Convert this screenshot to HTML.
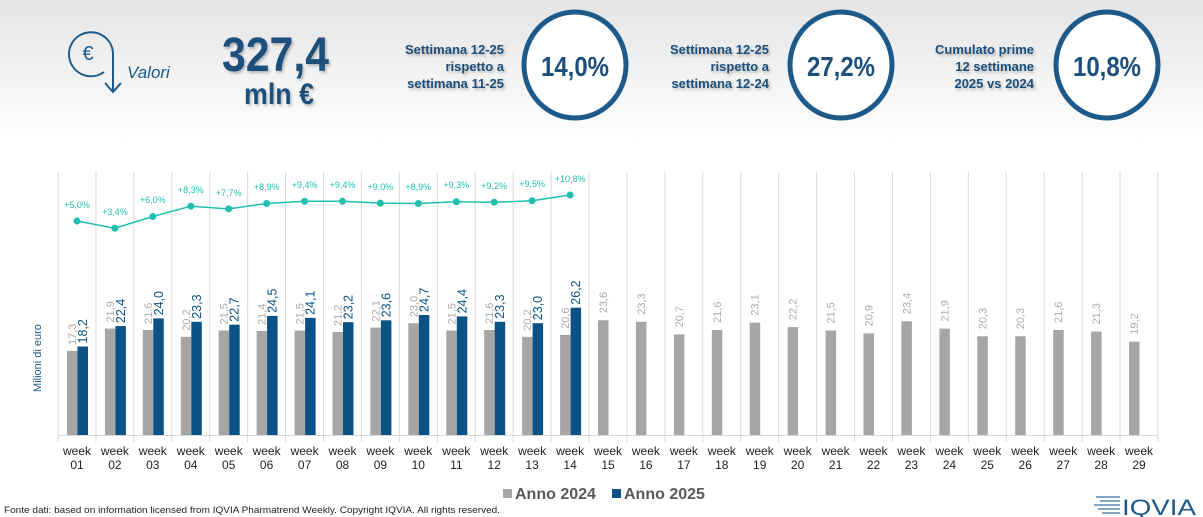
<!DOCTYPE html>
<html><head><meta charset="utf-8"><style>
html,body{margin:0;padding:0;width:1203px;height:517px;overflow:hidden;background:#fff;font-family:"Liberation Sans",sans-serif;}
</style></head><body>
<svg width="1203" height="517" viewBox="0 0 1203 517" xmlns="http://www.w3.org/2000/svg" font-family="Liberation Sans, sans-serif">
<defs>
<linearGradient id="bg" x1="0" y1="0" x2="0" y2="1">
<stop offset="0" stop-color="#e4e4e4"/><stop offset="1" stop-color="#ffffff"/>
</linearGradient>
<filter id="sh" x="-10%" y="-10%" width="130%" height="140%"><feDropShadow dx="1.5" dy="2" stdDeviation="1.2" flood-color="#000" flood-opacity="0.25"/></filter>
<pattern id="grid" x="57.5" y="0" width="37.93" height="517" patternUnits="userSpaceOnUse"><rect x="0" y="0" width="1" height="517" fill="#d9d9d9"/></pattern>
</defs>
<rect x="0" y="0" width="1203" height="140" fill="url(#bg)"/>
<g fill="none" stroke="#1d5a8a" stroke-width="2">
<path d="M104 72 A22 22 0 1 1 113 55 L113 91"/>
<path d="M105 83 L113 92 L121 83"/>
</g>
<text x="88" y="60" font-size="20" fill="#1d5a8a" text-anchor="middle">€</text>
<text x="127" y="78" font-size="17" font-style="italic" fill="#1d5a8a">Valori</text>
<g filter="url(#sh)" fill="#1d4f7c" font-weight="bold">
<text x="222" y="71" font-size="48" textLength="107" lengthAdjust="spacingAndGlyphs">327,4</text>
<text x="244" y="104" font-size="30" textLength="70" lengthAdjust="spacingAndGlyphs">mln €</text>
<g font-size="13" text-anchor="end">
<text x="504" y="54">Settimana 12-25</text><text x="504" y="71">rispetto a</text><text x="504" y="88">settimana 11-25</text>
<text x="769" y="54">Settimana 12-25</text><text x="769" y="71">rispetto a</text><text x="769" y="88">settimana 12-24</text>
<text x="1034" y="54">Cumulato prime</text><text x="1034" y="71">12 settimane</text><text x="1034" y="88">2025 vs 2024</text>
</g>
</g>
<g fill="#fff" stroke="#1d5a8a" stroke-width="5">
<ellipse cx="575" cy="65" rx="51" ry="53"/>
<ellipse cx="841" cy="65" rx="51" ry="53"/>
<ellipse cx="1107" cy="65" rx="51" ry="53"/>
</g>
<g fill="#1d4f7c" font-size="28" text-anchor="middle" font-weight="bold">
<text x="575" y="76" textLength="68" lengthAdjust="spacingAndGlyphs">14,0%</text>
<text x="841" y="76" textLength="68" lengthAdjust="spacingAndGlyphs">27,2%</text>
<text x="1107" y="76" textLength="68" lengthAdjust="spacingAndGlyphs">10,8%</text>
</g>
<text transform="translate(41,358) rotate(-90)" font-size="11" fill="#1d5a8a" text-anchor="middle">Milioni di euro</text>

<rect x="57" y="172" width="1102" height="270" fill="url(#grid)"/>
<line x1="58" y1="435.5" x2="1158" y2="435.5" stroke="#d9d9d9"/>

<polyline fill="none" stroke="#1fbfb0" stroke-width="1.5" points="77,221 114.9,228.2 152.8,216.5 190.8,206.2 228.7,208.9 266.6,203.5 304.6,201.3 342.5,201.3 380.4,203.1 418.3,203.5 456.3,201.7 494.2,202.2 532.1,200.8 570.1,195"/>
<g fill="#1fbfb0">
<circle cx="77" cy="221" r="3.5"/><circle cx="114.9" cy="228.2" r="3.5"/><circle cx="152.8" cy="216.5" r="3.5"/><circle cx="190.8" cy="206.2" r="3.5"/><circle cx="228.7" cy="208.9" r="3.5"/><circle cx="266.6" cy="203.5" r="3.5"/><circle cx="304.6" cy="201.3" r="3.5"/><circle cx="342.5" cy="201.3" r="3.5"/><circle cx="380.4" cy="203.1" r="3.5"/><circle cx="418.3" cy="203.5" r="3.5"/><circle cx="456.3" cy="201.7" r="3.5"/><circle cx="494.2" cy="202.2" r="3.5"/><circle cx="532.1" cy="200.8" r="3.5"/><circle cx="570.1" cy="195" r="3.5"/>
</g>
<g fill="#1fbfb0" font-size="9" text-anchor="middle">
<text x="77" y="208">+5,0%</text><text x="114.9" y="215">+3,4%</text><text x="152.8" y="203">+6,0%</text><text x="190.8" y="193">+8,3%</text><text x="228.7" y="196">+7,7%</text><text x="266.6" y="190">+8,9%</text><text x="304.6" y="188">+9,4%</text><text x="342.5" y="188">+9,4%</text><text x="380.4" y="190">+9,0%</text><text x="418.3" y="190">+8,9%</text><text x="456.3" y="188">+9,3%</text><text x="494.2" y="189">+9,2%</text><text x="532.1" y="187">+9,5%</text><text x="570.1" y="182">+10,8%</text>
</g>

<g fill="#a6a6a6">
<rect x="67" y="350.9" width="10.5" height="84.1"/>
<rect x="104.9" y="328.6" width="10.5" height="106.4"/>
<rect x="142.8" y="330" width="10.5" height="105"/>
<rect x="180.8" y="336.8" width="10.5" height="98.2"/>
<rect x="218.7" y="330.5" width="10.5" height="104.5"/>
<rect x="256.6" y="331" width="10.5" height="104"/>
<rect x="294.6" y="330.5" width="10.5" height="104.5"/>
<rect x="332.5" y="332" width="10.5" height="103"/>
<rect x="370.4" y="327.6" width="10.5" height="107.4"/>
<rect x="408.3" y="323.2" width="10.5" height="111.8"/>
<rect x="446.3" y="330.5" width="10.5" height="104.5"/>
<rect x="484.2" y="330" width="10.5" height="105"/>
<rect x="522.1" y="336.8" width="10.5" height="98.2"/>
<rect x="560.1" y="334.9" width="10.5" height="100.1"/>
<rect x="598" y="320.3" width="10.5" height="114.7"/>
<rect x="635.9" y="321.8" width="10.5" height="113.2"/>
<rect x="673.9" y="334.4" width="10.5" height="100.6"/>
<rect x="711.8" y="330" width="10.5" height="105"/>
<rect x="749.7" y="322.7" width="10.5" height="112.3"/>
<rect x="787.6" y="327.1" width="10.5" height="107.9"/>
<rect x="825.6" y="330.5" width="10.5" height="104.5"/>
<rect x="863.5" y="333.4" width="10.5" height="101.6"/>
<rect x="901.4" y="321.3" width="10.5" height="113.7"/>
<rect x="939.4" y="328.6" width="10.5" height="106.4"/>
<rect x="977.3" y="336.3" width="10.5" height="98.7"/>
<rect x="1015.2" y="336.3" width="10.5" height="98.7"/>
<rect x="1053.2" y="330" width="10.5" height="105"/>
<rect x="1091.1" y="331.5" width="10.5" height="103.5"/>
<rect x="1129" y="341.7" width="10.5" height="93.3"/>
</g>
<g fill="#acacac" font-size="11">
<text transform="translate(76,345) rotate(-90)">17,3</text>
<text transform="translate(113.9,322.6) rotate(-90)">21,9</text>
<text transform="translate(151.8,324) rotate(-90)">21,6</text>
<text transform="translate(189.8,330.8) rotate(-90)">20,2</text>
<text transform="translate(227.7,324.5) rotate(-90)">21,5</text>
<text transform="translate(265.6,325) rotate(-90)">21,4</text>
<text transform="translate(303.6,324.5) rotate(-90)">21,5</text>
<text transform="translate(341.5,326) rotate(-90)">21,2</text>
<text transform="translate(379.4,321.6) rotate(-90)">22,1</text>
<text transform="translate(417.3,317.2) rotate(-90)">23,0</text>
<text transform="translate(455.3,324.5) rotate(-90)">21,5</text>
<text transform="translate(493.2,324) rotate(-90)">21,6</text>
<text transform="translate(531.1,330.8) rotate(-90)">20,2</text>
<text transform="translate(569.1,328.9) rotate(-90)">20,6</text>
<text transform="translate(607,313.3) rotate(-90)">23,6</text>
<text transform="translate(644.9,314.8) rotate(-90)">23,3</text>
<text transform="translate(682.9,327.4) rotate(-90)">20,7</text>
<text transform="translate(720.8,323) rotate(-90)">21,6</text>
<text transform="translate(758.7,315.7) rotate(-90)">23,1</text>
<text transform="translate(796.6,320.1) rotate(-90)">22,2</text>
<text transform="translate(834.6,323.5) rotate(-90)">21,5</text>
<text transform="translate(872.5,326.4) rotate(-90)">20,9</text>
<text transform="translate(910.4,314.3) rotate(-90)">23,4</text>
<text transform="translate(948.4,321.6) rotate(-90)">21,9</text>
<text transform="translate(986.3,329.3) rotate(-90)">20,3</text>
<text transform="translate(1024.2,329.3) rotate(-90)">20,3</text>
<text transform="translate(1062.2,323) rotate(-90)">21,6</text>
<text transform="translate(1100.1,324.5) rotate(-90)">21,3</text>
<text transform="translate(1138,334.7) rotate(-90)">19,2</text>
</g>
<g fill="#0a5186">
<rect x="77.5" y="346.5" width="10.5" height="88.5"/>
<rect x="115.4" y="326.1" width="10.5" height="108.9"/>
<rect x="153.3" y="318.4" width="10.5" height="116.6"/>
<rect x="191.3" y="321.8" width="10.5" height="113.2"/>
<rect x="229.2" y="324.7" width="10.5" height="110.3"/>
<rect x="267.1" y="315.9" width="10.5" height="119.1"/>
<rect x="305.1" y="317.9" width="10.5" height="117.1"/>
<rect x="343" y="322.2" width="10.5" height="112.8"/>
<rect x="380.9" y="320.3" width="10.5" height="114.7"/>
<rect x="418.8" y="315" width="10.5" height="120"/>
<rect x="456.8" y="316.4" width="10.5" height="118.6"/>
<rect x="494.7" y="321.8" width="10.5" height="113.2"/>
<rect x="532.6" y="323.2" width="10.5" height="111.8"/>
<rect x="570.6" y="307.7" width="10.5" height="127.3"/>
</g>
<g fill="#0a5186" font-size="12.5">
<text transform="translate(87,343.5) rotate(-90)">18,2</text>
<text transform="translate(124.9,323.1) rotate(-90)">22,4</text>
<text transform="translate(162.8,315.4) rotate(-90)">24,0</text>
<text transform="translate(200.8,318.8) rotate(-90)">23,3</text>
<text transform="translate(238.7,321.7) rotate(-90)">22,7</text>
<text transform="translate(276.6,312.9) rotate(-90)">24,5</text>
<text transform="translate(314.6,314.9) rotate(-90)">24,1</text>
<text transform="translate(352.5,319.2) rotate(-90)">23,2</text>
<text transform="translate(390.4,317.3) rotate(-90)">23,6</text>
<text transform="translate(428.3,312) rotate(-90)">24,7</text>
<text transform="translate(466.3,313.4) rotate(-90)">24,4</text>
<text transform="translate(504.2,318.8) rotate(-90)">23,3</text>
<text transform="translate(542.1,320.2) rotate(-90)">23,0</text>
<text transform="translate(580.1,304.7) rotate(-90)">26,2</text>
</g>
<g fill="#222" font-size="12" text-anchor="middle">
<text x="77" y="455">week</text><text x="114.9" y="455">week</text><text x="152.8" y="455">week</text><text x="190.8" y="455">week</text><text x="228.7" y="455">week</text><text x="266.6" y="455">week</text><text x="304.6" y="455">week</text><text x="342.5" y="455">week</text><text x="380.4" y="455">week</text><text x="418.3" y="455">week</text><text x="456.3" y="455">week</text><text x="494.2" y="455">week</text><text x="532.1" y="455">week</text><text x="570.1" y="455">week</text><text x="608" y="455">week</text><text x="645.9" y="455">week</text><text x="683.9" y="455">week</text><text x="721.8" y="455">week</text><text x="759.7" y="455">week</text><text x="797.6" y="455">week</text><text x="835.6" y="455">week</text><text x="873.5" y="455">week</text><text x="911.4" y="455">week</text><text x="949.4" y="455">week</text><text x="987.3" y="455">week</text><text x="1025.2" y="455">week</text><text x="1063.2" y="455">week</text><text x="1101.1" y="455">week</text><text x="1139" y="455">week</text>
<text x="77" y="469">01</text><text x="114.9" y="469">02</text><text x="152.8" y="469">03</text><text x="190.8" y="469">04</text><text x="228.7" y="469">05</text><text x="266.6" y="469">06</text><text x="304.6" y="469">07</text><text x="342.5" y="469">08</text><text x="380.4" y="469">09</text><text x="418.3" y="469">10</text><text x="456.3" y="469">11</text><text x="494.2" y="469">12</text><text x="532.1" y="469">13</text><text x="570.1" y="469">14</text><text x="608" y="469">15</text><text x="645.9" y="469">16</text><text x="683.9" y="469">17</text><text x="721.8" y="469">18</text><text x="759.7" y="469">19</text><text x="797.6" y="469">20</text><text x="835.6" y="469">21</text><text x="873.5" y="469">22</text><text x="911.4" y="469">23</text><text x="949.4" y="469">24</text><text x="987.3" y="469">25</text><text x="1025.2" y="469">26</text><text x="1063.2" y="469">27</text><text x="1101.1" y="469">28</text><text x="1139" y="469">29</text>
</g>

<rect x="503" y="489" width="9" height="9" fill="#a6a6a6"/>
<text x="515" y="499" font-size="16" font-weight="bold" fill="#595959">Anno 2024</text>
<rect x="612" y="489" width="9" height="9" fill="#0a5186"/>
<text x="624" y="499" font-size="16" font-weight="bold" fill="#595959">Anno 2025</text>
<text x="4" y="513" font-size="9" fill="#222" textLength="496" lengthAdjust="spacingAndGlyphs">Fonte dati: based on information licensed from IQVIA Pharmatrend Weekly. Copyright IQVIA. All rights reserved.</text>
<g stroke="#5b86b5" stroke-width="1.5">
<line x1="1096" y1="497" x2="1120" y2="497"/><line x1="1100" y1="501" x2="1120" y2="501"/><line x1="1094" y1="505" x2="1120" y2="505"/><line x1="1098" y1="509" x2="1120" y2="509"/><line x1="1102" y1="513" x2="1120" y2="513"/>
</g>
<text x="1122" y="515" font-size="22" fill="#1d5a8a" textLength="74" lengthAdjust="spacingAndGlyphs">IQVIA</text>
</svg>
</body></html>
